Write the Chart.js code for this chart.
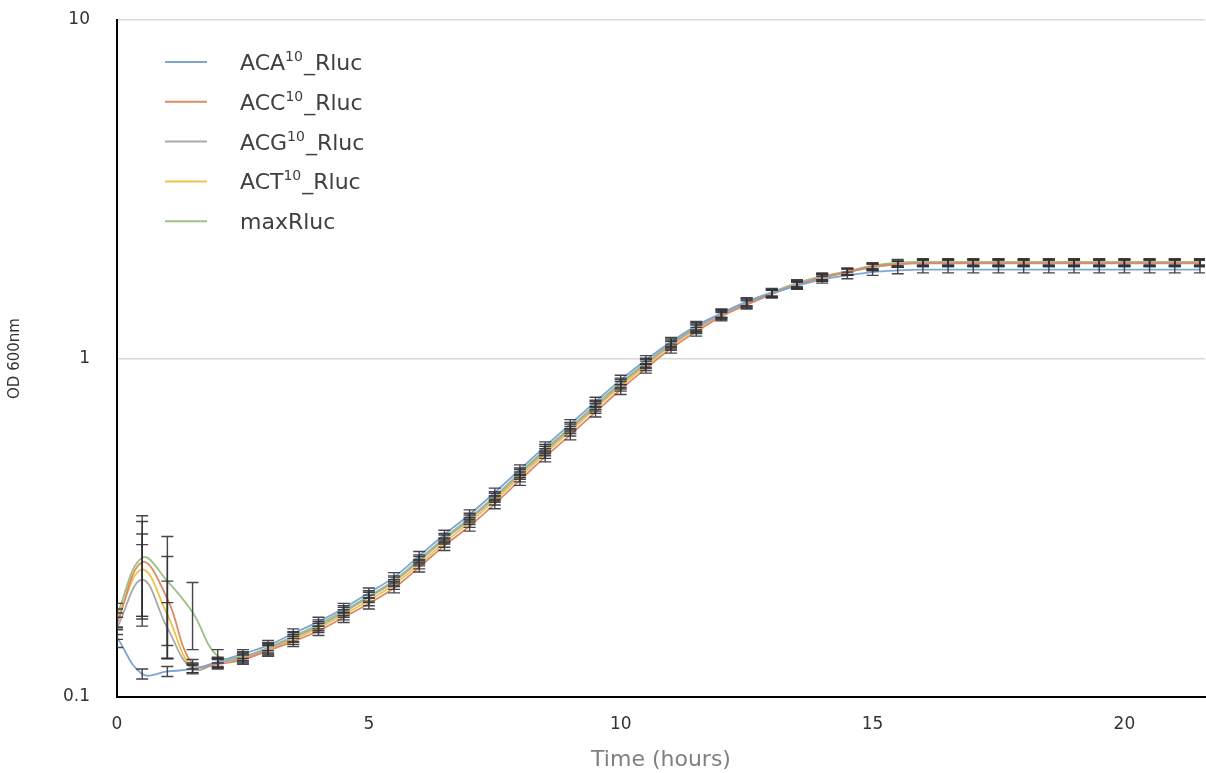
<!DOCTYPE html>
<html>
<head>
<meta charset="utf-8">
<title>OD 600nm growth curves</title>
<script src="https://cdn.jsdelivr.net/npm/chart.js@4.4.1/dist/chart.umd.min.js"></script>
<style>
    html, body { margin: 0; padding: 0; background: #fff; }
    #wrap { width: 1206px; height: 773px; }
</style>
</head>
<body>
<div id="wrap"><canvas id="odChart" width="1206" height="773"></canvas></div>
<script>
// Time points (hours)
const hours = [0, 0.5, 1, 1.5, 2, 2.5, 3, 3.5, 4, 4.5, 5, 5.5, 6, 6.5, 7, 7.5, 8, 8.5, 9, 9.5,
    10, 10.5, 11, 11.5, 12, 12.5, 13, 13.5, 14, 14.5, 15, 15.5, 16, 16.5, 17, 17.5, 18, 18.5,
    19, 19.5, 20, 20.5, 21, 21.5];

// OD 600nm per strain
const acaOD = [0.150, 0.117, 0.119, 0.121, 0.127, 0.134, 0.142, 0.154, 0.167, 0.183, 0.203, 0.226,
    0.261, 0.302, 0.346, 0.402, 0.470, 0.550, 0.640, 0.745, 0.865, 0.990, 1.12, 1.25, 1.36, 1.47,
    1.56, 1.64, 1.71, 1.76, 1.80, 1.82, 1.83, 1.83, 1.83, 1.83, 1.83, 1.83, 1.83, 1.83, 1.83, 1.83, 1.83, 1.83];
const accOD = [0.165, 0.250, 0.195, 0.125, 0.125, 0.129, 0.137, 0.146, 0.157, 0.172, 0.189, 0.210,
    0.242, 0.280, 0.320, 0.372, 0.437, 0.512, 0.595, 0.695, 0.810, 0.935, 1.07, 1.20, 1.33, 1.44,
    1.55, 1.65, 1.73, 1.80, 1.87, 1.90, 1.91, 1.91, 1.91, 1.91, 1.91, 1.91, 1.91, 1.91, 1.91, 1.91, 1.91, 1.91];
const acgOD = [0.160, 0.222, 0.160, 0.121, 0.126, 0.131, 0.139, 0.150, 0.162, 0.178, 0.197, 0.219,
    0.252, 0.292, 0.334, 0.388, 0.455, 0.533, 0.620, 0.722, 0.840, 0.965, 1.10, 1.23, 1.35, 1.46,
    1.56, 1.66, 1.74, 1.80, 1.86, 1.90, 1.92, 1.92, 1.92, 1.92, 1.92, 1.92, 1.92, 1.92, 1.92, 1.92, 1.92, 1.92];
const actOD = [0.170, 0.238, 0.175, 0.122, 0.126, 0.130, 0.138, 0.148, 0.160, 0.175, 0.193, 0.215,
    0.247, 0.286, 0.328, 0.381, 0.447, 0.524, 0.610, 0.712, 0.828, 0.952, 1.09, 1.22, 1.34, 1.45,
    1.55, 1.65, 1.73, 1.80, 1.86, 1.90, 1.92, 1.92, 1.92, 1.92, 1.92, 1.92, 1.92, 1.92, 1.92, 1.92, 1.92, 1.92];
const maxOD = [0.175, 0.258, 0.220, 0.178, 0.132, 0.132, 0.140, 0.151, 0.164, 0.180, 0.199, 0.221,
    0.255, 0.295, 0.338, 0.392, 0.460, 0.540, 0.627, 0.730, 0.848, 0.972, 1.11, 1.24, 1.36, 1.47,
    1.57, 1.67, 1.75, 1.81, 1.88, 1.92, 1.93, 1.93, 1.93, 1.93, 1.93, 1.93, 1.93, 1.93, 1.93, 1.93, 1.93, 1.93];

// Standard deviations (error bars)
const acaErr = [0.010, 0.004, 0.004, 0.003, 0.004, 0.004, 0.005, 0.005, 0.005, 0.006, 0.007, 0.007,
    0.008, 0.009, 0.011, 0.012, 0.015, 0.017, 0.020, 0.023, 0.027, 0.030, 0.033, 0.036, 0.038, 0.040,
    0.040, 0.040, 0.040, 0.040, 0.040, 0.040, 0.040, 0.040, 0.040, 0.040, 0.040, 0.040, 0.040, 0.040, 0.040, 0.040, 0.040, 0.040];
const accErr = [0.012, 0.080, 0.065, 0.004, 0.004, 0.004, 0.005, 0.005, 0.005, 0.006, 0.007, 0.007,
    0.008, 0.009, 0.011, 0.012, 0.015, 0.017, 0.020, 0.023, 0.027, 0.030, 0.033, 0.036, 0.038, 0.040,
    0.040, 0.040, 0.040, 0.040, 0.040, 0.040, 0.040, 0.040, 0.040, 0.040, 0.040, 0.040, 0.040, 0.040, 0.040, 0.040, 0.040, 0.040];
const acgErr = [0.012, 0.060, 0.030, 0.004, 0.004, 0.004, 0.005, 0.005, 0.005, 0.006, 0.007, 0.007,
    0.008, 0.009, 0.011, 0.012, 0.015, 0.017, 0.020, 0.023, 0.027, 0.030, 0.033, 0.036, 0.038, 0.040,
    0.040, 0.040, 0.040, 0.040, 0.040, 0.040, 0.040, 0.040, 0.040, 0.040, 0.040, 0.040, 0.040, 0.040, 0.040, 0.040, 0.040, 0.040];
const actErr = [0.012, 0.065, 0.045, 0.004, 0.004, 0.004, 0.005, 0.005, 0.005, 0.006, 0.007, 0.007,
    0.008, 0.009, 0.011, 0.012, 0.015, 0.017, 0.020, 0.023, 0.027, 0.030, 0.033, 0.036, 0.038, 0.040,
    0.040, 0.040, 0.040, 0.040, 0.040, 0.040, 0.040, 0.040, 0.040, 0.040, 0.040, 0.040, 0.040, 0.040, 0.040, 0.040, 0.040, 0.040];
const maxErr = [0.014, 0.085, 0.078, 0.040, 0.006, 0.004, 0.005, 0.005, 0.005, 0.006, 0.007, 0.007,
    0.008, 0.009, 0.011, 0.012, 0.015, 0.017, 0.020, 0.023, 0.027, 0.030, 0.033, 0.036, 0.038, 0.040,
    0.040, 0.040, 0.040, 0.040, 0.040, 0.040, 0.040, 0.040, 0.040, 0.040, 0.040, 0.040, 0.040, 0.040, 0.040, 0.040, 0.040, 0.040];

const seriesLabels = ['ACA¹⁰_Rluc', 'ACC¹⁰_Rluc', 'ACG¹⁰_Rluc', 'ACT¹⁰_Rluc', 'maxRluc'];
const seriesColors = ['#7ea6d4', '#dc8a66', '#a9a9a9', '#efc24a', '#9cc283'];
const xTicks = [0, 5, 10, 15, 20];
const yTicks = [0.1, 1, 10];

const allOD = [acaOD, accOD, acgOD, actOD, maxOD];
const allErr = [acaErr, accErr, acgErr, actErr, maxErr];

const datasets = seriesLabels.map((label, i) => ({
    label: label,
    data: hours.map((h, j) => ({ x: h, y: allOD[i][j] })),
    errors: allErr[i],
    borderColor: seriesColors[i],
    backgroundColor: seriesColors[i],
    borderWidth: 1.8,
    pointRadius: 0,
    tension: 0.4,
    fill: false,
}));

// Draw the vertical error bars with caps
const errorBars = {
    id: 'errorBars',
    afterDatasetsDraw(chart) {
        const ctx = chart.ctx;
        const xs = chart.scales.x;
        const ys = chart.scales.y;
        const area = chart.chartArea;
        ctx.save();
        ctx.beginPath();
        ctx.rect(area.left, area.top, area.right - area.left, area.bottom - area.top);
        ctx.clip();
        ctx.strokeStyle = 'rgba(50, 50, 55, 0.9)';
        ctx.lineWidth = 1.4;
        chart.data.datasets.forEach((ds) => {
            ds.data.forEach((p, j) => {
                const e = ds.errors[j];
                const px = xs.getPixelForValue(p.x);
                const top = ys.getPixelForValue(p.y + e);
                const bot = ys.getPixelForValue(Math.max(p.y - e, 0.0001));
                ctx.beginPath();
                ctx.moveTo(px, top); ctx.lineTo(px, bot);
                ctx.moveTo(px - 6, top); ctx.lineTo(px + 6, top);
                ctx.moveTo(px - 6, bot); ctx.lineTo(px + 6, bot);
                ctx.stroke();
            });
        });
        ctx.restore();
    }
};

// Legend sits inside the plot, top-left, with superscript 10
const insideLegend = {
    id: 'insideLegend',
    afterDraw(chart) {
        const ctx = chart.ctx;
        const left = chart.chartArea.left;
        ctx.save();
        ctx.textBaseline = 'alphabetic';
        chart.data.datasets.forEach((ds, i) => {
            const y = 62 + i * 39.8;
            ctx.strokeStyle = ds.borderColor;
            ctx.lineWidth = 2;
            ctx.beginPath();
            ctx.moveTo(left + 48, y);
            ctx.lineTo(left + 90, y);
            ctx.stroke();

            let x = left + 123;
            const base = y + 8;
            const parts = ds.label.split(/([¹⁰]+)/);
            parts.forEach((part) => {
                if (!part) return;
                if (/^[¹⁰]+$/.test(part)) {
                    const digits = part.replace(/¹/g, '1').replace(/⁰/g, '0');
                    ctx.font = '14px "DejaVu Sans"';
                    ctx.fillStyle = '#404040';
                    ctx.fillText(digits, x, base - 9);
                    x += ctx.measureText(digits).width + 1;
                } else {
                    ctx.font = '22px "DejaVu Sans"';
                    ctx.fillStyle = '#404040';
                    ctx.fillText(part, x, base);
                    x += ctx.measureText(part).width;
                }
            });
        });
        ctx.restore();
    }
};

const chart = new Chart(document.getElementById('odChart').getContext('2d'), {
    type: 'line',
    data: { datasets: datasets },
    plugins: [errorBars, insideLegend],
    options: {
        responsive: false,
        animation: false,
        devicePixelRatio: 1,
        layout: { padding: { left: 0, right: 1, top: 0, bottom: 0 } },
        plugins: {
            legend: { display: false },
            tooltip: { enabled: false },
        },
        scales: {
            x: {
                type: 'linear',
                min: 0,
                max: 21.6,
                afterBuildTicks: (scale) => { scale.ticks = xTicks.map((v) => ({ value: v })); },
                afterFit: (scale) => { scale.height = 76; },
                grid: { display: false, drawTicks: false },
                border: { display: true, color: '#000', width: 2 },
                ticks: {
                    padding: 17,
                    color: '#333',
                    font: { family: 'DejaVu Sans', size: 17 },
                    maxRotation: 0,
                },
                title: {
                    display: true,
                    text: 'Time (hours)',
                    color: '#808080',
                    font: { family: 'DejaVu Sans', size: 22 },
                    padding: { top: 0, bottom: 0 },
                },
            },
            y: {
                type: 'logarithmic',
                min: 0.1,
                max: 10,
                afterBuildTicks: (scale) => { scale.ticks = yTicks.map((v) => ({ value: v })); },
                afterFit: (scale) => {
                    scale.width = 117;
                    scale.paddingTop = 20;
                    scale.paddingBottom = 0;
                },
                grid: {
                    drawTicks: false,
                    color: (c) => (c.tick && c.tick.value === 0.1 ? 'rgba(0,0,0,0)' : '#d9d9d9'),
                    lineWidth: 1.5,
                },
                border: { display: true, color: '#000', width: 2 },
                ticks: {
                    padding: 27,
                    color: '#333',
                    font: { family: 'DejaVu Sans', size: 17 },
                    callback: (v) => String(v),
                },
                title: {
                    display: true,
                    text: 'OD 600nm',
                    color: '#333',
                    font: { family: 'DejaVu Sans', size: 15 },
                    padding: { top: 6, bottom: 0 },
                },
            },
        },
    },
});
</script>
</body>
</html>
